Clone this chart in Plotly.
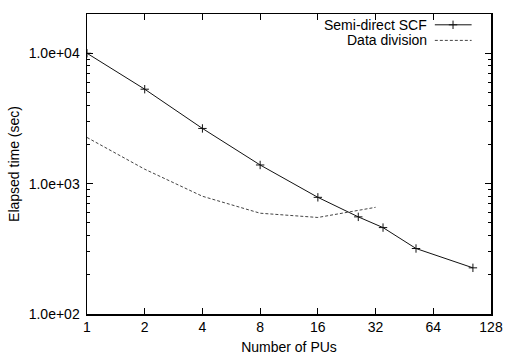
import plotly.graph_objects as go

# Data
scf_pus = [1, 2, 4, 8, 16, 26, 35, 52, 103]
scf_time = [10000, 5300, 2650, 1390, 785, 556, 460, 318, 226]
div_pus = [1, 2, 4, 8, 16, 32]
div_time = [2260, 1290, 800, 593, 550, 658]

x_ticks = [1, 2, 4, 8, 16, 32, 64, 128]
y_ticks = [100, 1000, 10000]
y_ticktext = ["1.0e+02", "1.0e+03", "1.0e+04"]
y_minor = [m * d for d in (100, 1000, 10000) for m in range(2, 10) if m * d < 20000]

FONT = "Liberation Sans, Arial, Helvetica, sans-serif"

fig = go.Figure()
fig.add_trace(go.Scatter(
    x=scf_pus, y=scf_time, mode="lines+markers", name="Semi-direct SCF",
    line=dict(color="#111111", width=1),
    marker=dict(symbol="cross-thin", size=6, line=dict(color="#111111", width=1)),
    showlegend=False,
))
fig.add_trace(go.Scatter(
    x=div_pus, y=div_time, mode="lines", name="Data division",
    line=dict(color="#444444", width=1, dash="3px,2px"),
    showlegend=False,
))

# gnuplot-style legend (text left of sample) on an overlay axis in [0,1]
LEG_Y1, LEG_Y2 = 0.964, 0.912
fig.add_trace(go.Scatter(
    x=[0.861, 0.952], y=[LEG_Y1, LEG_Y1], mode="lines", xaxis="x2", yaxis="y2",
    line=dict(color="#111111", width=1), showlegend=False, hoverinfo="skip"))
fig.add_trace(go.Scatter(
    x=[0.906], y=[LEG_Y1], mode="markers", xaxis="x2", yaxis="y2",
    marker=dict(symbol="cross-thin", size=6, line=dict(color="#111111", width=1)),
    showlegend=False, hoverinfo="skip"))
fig.add_trace(go.Scatter(
    x=[0.861, 0.952], y=[LEG_Y2, LEG_Y2], mode="lines", xaxis="x2", yaxis="y2",
    line=dict(color="#444444", width=1, dash="3px,2px"), showlegend=False, hoverinfo="skip"))

fig.add_annotation(x=0.843, y=LEG_Y1, xref="x2", yref="y2", text="Semi-direct SCF",
                   showarrow=False, xanchor="right", yanchor="middle", borderpad=0,
                   font=dict(family=FONT, size=14, color="black"))
fig.add_annotation(x=0.843, y=LEG_Y2, xref="x2", yref="y2", text="Data division",
                   showarrow=False, xanchor="right", yanchor="middle", borderpad=0,
                   font=dict(family=FONT, size=14, color="black"))

fig.update_layout(
    width=514, height=364,
    margin=dict(l=87, r=11, t=14, b=43),
    paper_bgcolor="white", plot_bgcolor="white",
    font=dict(family=FONT, size=14, color="black"),
    xaxis=dict(
        type="log", range=[0, 2.10721], tickvals=x_ticks, ticktext=[str(v) for v in x_ticks],
        ticks="inside", ticklen=6, tickwidth=1, tickcolor="black", ticklabeloverflow="allow",
        showline=True, linecolor="black", linewidth=1.5, mirror="ticks",
        showgrid=False, zeroline=False,
        title=dict(text="Number of PUs", standoff=8, font=dict(size=14)),
    ),
    yaxis=dict(
        type="log", range=[2, 4.30103], tickvals=y_ticks, ticktext=y_ticktext,
        ticks="inside", ticklen=6, tickwidth=1, tickcolor="black", ticklabelstandoff=3,
        minor=dict(ticks="inside", ticklen=3, tickwidth=1, tickcolor="black", tickvals=y_minor),
        showline=True, linecolor="black", linewidth=1.5, mirror="ticks",
        showgrid=False, zeroline=False,
        title=dict(text="Elapsed time (sec)", standoff=6, font=dict(size=14)),
    ),
    xaxis2=dict(range=[0, 1], overlaying="x", visible=False, domain=[0, 1]),
    yaxis2=dict(range=[0, 1], overlaying="y", visible=False),
)

fig.write_html(
    "out.html",
    config={"staticPlot": True, "displayModeBar": False, "responsive": False},
    post_script="document.body.style.margin='0';",
)
